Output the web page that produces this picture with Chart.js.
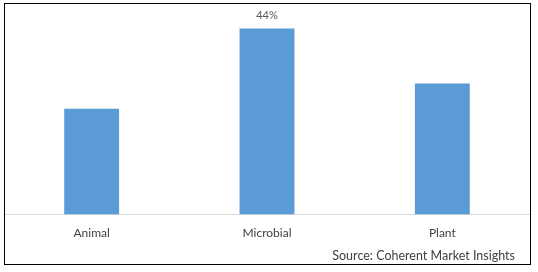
<!DOCTYPE html>
<html>
<head>
<meta charset="utf-8">
<script src="https://cdn.jsdelivr.net/npm/chart.js@4.4.0/dist/chart.umd.min.js"></script>
<style>
  html, body { margin: 0; padding: 0; background: #fff; }
  #wrap { position: relative; width: 538px; height: 272px; }
</style>
</head>
<body>
<div id="wrap"><canvas id="chart" width="538" height="272"></canvas></div>
<script>
const categories = ["Animal", "Microbial", "Plant"];
const shares = [25, 44, 31];
const valueLabels = ["", "44%", ""];
const sourceText = "Source: Coherent Market Insights";

const FONT = "Lato";

// border box + source line + value label on top of bar
const decorations = {
  id: "decorations",
  afterDraw(chart) {
    const ctx = chart.ctx;
    ctx.save();
    ctx.strokeStyle = "#000";
    ctx.lineWidth = 1;
    ctx.strokeRect(4.5, 3.5, 526, 261);

    ctx.fillStyle = "#404040";
    ctx.font = "12.5px " + FONT;
    ctx.textAlign = "right";
    ctx.textBaseline = "middle";
    ctx.fillText(sourceText, 515, 256);

    const meta = chart.getDatasetMeta(0);
    ctx.fillStyle = "#595959";
    ctx.font = "11px " + FONT;
    ctx.textAlign = "center";
    meta.data.forEach((bar, i) => {
      if (valueLabels[i]) ctx.fillText(valueLabels[i], bar.x, bar.y - 13);
    });
    ctx.restore();
  },
};

new Chart(document.getElementById("chart"), {
  type: "bar",
  data: {
    labels: categories,
    datasets: [
      {
        data: shares,
        backgroundColor: "#5b9bd5",
        barPercentage: 0.313,
        categoryPercentage: 1,
      },
    ],
  },
  options: {
    responsive: false,
    animation: false,
    devicePixelRatio: 1,
    layout: { padding: { left: 4, right: 8, top: 3, bottom: 21 } },
    plugins: {
      legend: { display: false },
      tooltip: { enabled: false },
    },
    scales: {
      x: {
        grid: { display: false, drawTicks: false },
        border: { display: true, color: "#d9d9d9", width: 1 },
        ticks: { color: "#404040", font: { family: FONT, size: 12 }, padding: 11 },
      },
      y: {
        display: false,
        min: 0,
        max: 50,
      },
    },
  },
  plugins: [decorations],
});
</script>
</body>
</html>
